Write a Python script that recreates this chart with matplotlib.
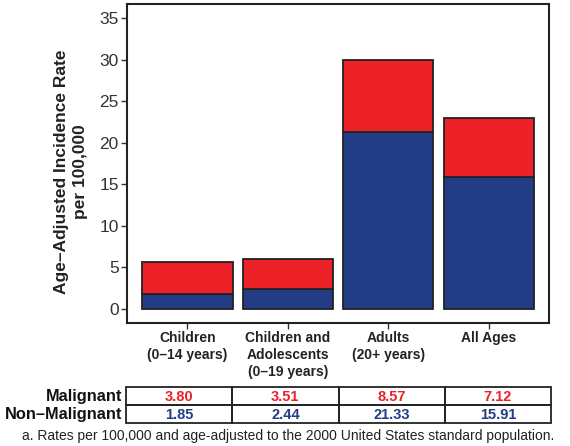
import numpy as np
import matplotlib.pyplot as plt
from matplotlib.patches import Rectangle

plt.rcParams['font.family'] = ['Liberation Sans', 'DejaVu Sans']

# ============
#  DATA
# ============
categories = ["Children\n(0\u201314 years)",
              "Children and\nAdolescents\n(0\u201319 years)",
              "Adults\n(20+ years)",
              "All Ages"]
malignant = [3.80, 3.51, 8.57, 7.12]
non_malignant = [1.85, 2.44, 21.33, 15.91]
row_labels = ["Malignant", "Non\u2013Malignant"]
yticks = [0, 5, 10, 15, 20, 25, 30, 35]

RED = "#ED2128"
BLUE = "#233C86"
EDGE = "#222222"
FOOTNOTE = "a. Rates per 100,000 and age-adjusted to the 2000 United States standard population."

fig = plt.figure(figsize=(5.70, 4.46), dpi=100)

# --- main bar chart ---
ax = fig.add_axes([127 / 570, 1 - 323 / 446, 422 / 570, 319 / 446])
x = np.arange(1, len(categories) + 1)
ax.bar(x, non_malignant, width=0.9, color=BLUE, edgecolor=EDGE, linewidth=1.3)
ax.bar(x, malignant, width=0.9, bottom=non_malignant, color=RED,
       edgecolor=EDGE, linewidth=1.3)

ax.set_xlim(0.4, 4.6)
ax.set_ylim(-1.7, 36.7)
ax.set_yticks(yticks)
ax.set_xticks(x)
ax.set_xticklabels(categories, fontsize=10, fontweight="bold", color="#222222",
                   linespacing=1.3, va="top")
ax.tick_params(axis="y", labelsize=12.5, labelcolor="#333333", length=4,
               color="#333333", width=1, pad=2)
ax.tick_params(axis="x", length=4, color="#333333", width=1, pad=1.5)
for s in ax.spines.values():
    s.set_linewidth(1.5)
    s.set_color("#222222")
ax.set_ylabel("Age\u2013Adjusted Incidence Rate\nper 100,000", fontsize=12.5,
              fontweight="bold", color="#222222", linespacing=1.35)
ax.yaxis.set_label_coords(-0.093, 0.475)

# --- value table under the chart ---
tab = fig.add_axes([126 / 570, 1 - 423 / 446, 425 / 570, 36 / 446])
tab.set_xlim(0, 4)
tab.set_ylim(0, 2)
tab.axis("off")
rows = [(malignant, RED), (non_malignant, BLUE)]
for r, (vals, col) in enumerate(rows):
    yb = 1 - r
    for c, v in enumerate(vals):
        tab.add_patch(Rectangle((c, yb), 1, 1, fill=False, edgecolor=EDGE,
                                linewidth=1.3, clip_on=False))
        tab.text(c + 0.5, yb + 0.45, f"{v:.2f}", color=col, fontsize=10.5,
                 fontweight="bold", ha="center", va="center")
    tab.text(-0.035, yb + 0.5, row_labels[r], fontsize=11.8, fontweight="bold",
             color="#111111", ha="right", va="center")

fig.text(0.506, 1 - 436 / 446, FOOTNOTE, fontsize=10, color="#222222",
         ha="center", va="center")

fig.savefig("out.png", dpi=100)
